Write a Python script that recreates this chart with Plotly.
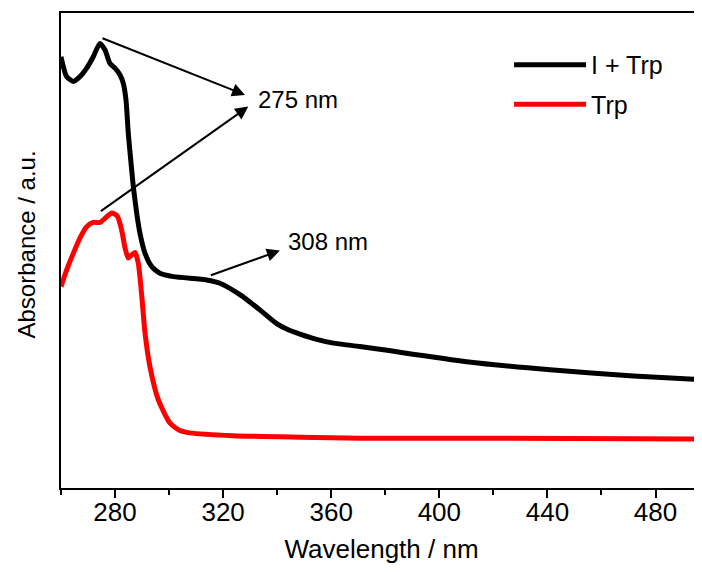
import plotly.graph_objects as go

# ---- data ----
wl_itrp = [260.0, 262.1, 264.55, 267.0, 269.5, 271.95, 274.4, 276.3, 278.1, 280.0, 281.8,
           283.05, 284.05, 284.9, 285.8, 286.75, 288.0, 289.2, 291.1, 293.6, 296.6, 301.6,
           313.9, 318.8, 326.2, 333.6, 339.8, 344.1, 348.4, 354.6, 360.8, 370.6, 379.3,
           410.1, 441.0, 471.8, 497.2]
abs_itrp = [0.908, 0.866, 0.856, 0.866, 0.884, 0.908, 0.936, 0.922, 0.894, 0.884, 0.870,
            0.852, 0.817, 0.747, 0.691, 0.635, 0.579, 0.537, 0.494, 0.466, 0.452, 0.445,
            0.438, 0.431, 0.407, 0.375, 0.346, 0.333, 0.324, 0.313, 0.305, 0.298, 0.291,
            0.266, 0.249, 0.236, 0.228]

wl_trp = [260.0, 262.1, 264.55, 267.0, 269.5, 271.95, 274.4, 276.9, 278.8, 280.8, 282.45,
          283.7, 284.9, 286.2, 287.4, 288.6, 289.9, 291.1, 292.9, 296.0, 300.3, 304.0,
          307.7, 323.8, 348.4, 370.6, 422.4, 497.2]
abs_trp = [0.424, 0.459, 0.494, 0.526, 0.550, 0.559, 0.559, 0.571, 0.579, 0.573, 0.543,
           0.505, 0.484, 0.491, 0.496, 0.473, 0.403, 0.326, 0.256, 0.186, 0.137, 0.121,
           0.116, 0.110, 0.107, 0.105, 0.105, 0.103]

series_names = ["I + Trp", "Trp"]
series_colors = ["#000000", "#ff0000"]

x_ticks = [280, 320, 360, 400, 440, 480]
x_range = [260, 497.2]
y_range = [0, 1.0]

FONT = "Liberation Sans, Arial, sans-serif"

fig = go.Figure()
for i, (name, xs, ys, col) in enumerate([(series_names[0], wl_itrp, abs_itrp, series_colors[0]),
                                         (series_names[1], wl_trp, abs_trp, series_colors[1])]):
    fig.add_trace(go.Scatter(x=xs, y=ys, mode="lines", name=name, legendgroup=f"g{i}",
                             line=dict(color=col, width=5, shape="spline", smoothing=0.6)))

# arrows: (head_x, head_y, tail_x, tail_y)
arrows = [(328.1, 0.8275, 274.8, 0.948),
          (329.3, 0.8029, 274.2, 0.5807),
          (341.0, 0.4999, 314.9, 0.4467)]
for hx, hy, tx, ty in arrows:
    fig.add_annotation(x=hx, y=hy, ax=tx, ay=ty, xref="x", yref="y", axref="x", ayref="y",
                       text="", showarrow=True, arrowhead=2, arrowsize=1.3, arrowwidth=2,
                       arrowcolor="#000000")

labels = [("275 nm", 332.0, 0.817), ("308 nm", 343.3, 0.520)]
for t, lx, ly in labels:
    fig.add_annotation(x=lx, y=ly, xref="x", yref="y", text=t, showarrow=False,
                       xanchor="left", yanchor="middle",
                       font=dict(family=FONT, size=24, color="#000000"))

# y-axis title
fig.add_annotation(x=0, y=0.5, xref="paper", yref="paper", xshift=-35, yshift=6,
                   text="Absorbance / a.u.", textangle=-90, showarrow=False,
                   xanchor="center", yanchor="middle",
                   font=dict(family=FONT, size=24, color="#000000"))

fig.update_layout(
    width=694, height=556,
    margin=dict(l=53, r=0, t=5, b=76),
    paper_bgcolor="white", plot_bgcolor="white",
    font=dict(family=FONT, size=25, color="#000000"),
    showlegend=True,
    legend=dict(x=0.699, y=0.939, xanchor="left", yanchor="top",
                bgcolor="rgba(0,0,0,0)", itemwidth=72,
                font=dict(family=FONT, size=25), tracegroupgap=4),
    xaxis=dict(range=x_range, tickvals=x_ticks, ticks="outside", ticklen=8, tickwidth=2,
               tickcolor="#000000", showline=True, linewidth=2, linecolor="#000000",
               mirror=True, showgrid=False, zeroline=False, ticklabelstandoff=-8,
               minor=dict(dtick=20, tick0=260, ticks="outside", ticklen=5, tickwidth=2,
                          tickcolor="#000000", showgrid=False),
               tickfont=dict(family=FONT, size=26),
               title=dict(text="Wavelength / nm", font=dict(family=FONT, size=26), standoff=18)),
    yaxis=dict(range=y_range, showticklabels=False, ticks="", showline=True, linewidth=2,
               linecolor="#000000", mirror=False, showgrid=False, zeroline=False),
)

fig.write_html("out.html")
